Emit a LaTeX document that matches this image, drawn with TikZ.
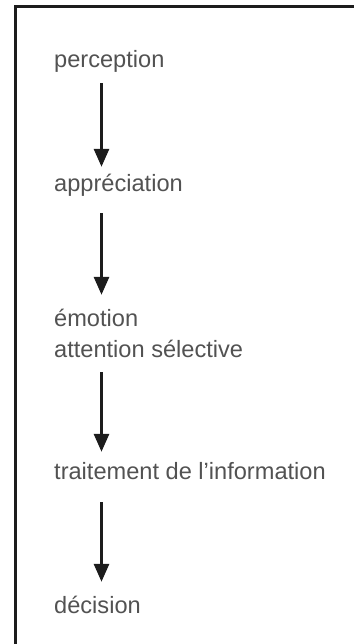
\documentclass[tikz,border=0pt]{standalone}
\usepackage{fontspec}
\setmainfont{Liberation Sans}
\usetikzlibrary{arrows.meta}
\definecolor{textc}{RGB}{82,82,82}
\definecolor{inkc}{RGB}{28,28,28}

\begin{document}
\begin{tikzpicture}[x=1pt, y=1pt,
every edge/.style = {draw=inkc, -{Triangle[width=15pt,length=18pt]}, line width=3pt},
         T/.style = {anchor=base west, inner sep=0pt, text height=17pt, text depth=5pt,
                     text=textc, font=\fontsize{23.6}{28}\selectfont}
                    ]
\useasboundingbox (0,0) rectangle (353,644);
% frame, only top and left edge show
\draw[line width=3pt, draw=inkc] (15.5,-5) |- (360,637);

\node[T] (perc) at (54,576) {perception};
\node[T] (appr) at (54,452) {appréciation};
\node[T] (emot) at (54,317) {émotion};
\node[T] (attn) at (54,286) {attention sélective};
\node[T] (trai) at (54,164) {traitement de l’information};
\node[T] (deci) at (54,30)  {décision};

\coordinate (col) at (101.5,0);
\draw   (perc.south -| col) edge [shorten <=10pt, shorten >=8pt]  (appr.north -| col)
        (appr.south -| col) edge [shorten <=16pt, shorten >=15pt] (emot.north -| col)
        (attn.south -| col) edge [shorten <=9pt,  shorten >=11pt] (trai.north -| col)
        (trai.south -| col) edge [shorten <=17pt, shorten >=15pt] (deci.north -| col);
\end{tikzpicture}
\end{document}
